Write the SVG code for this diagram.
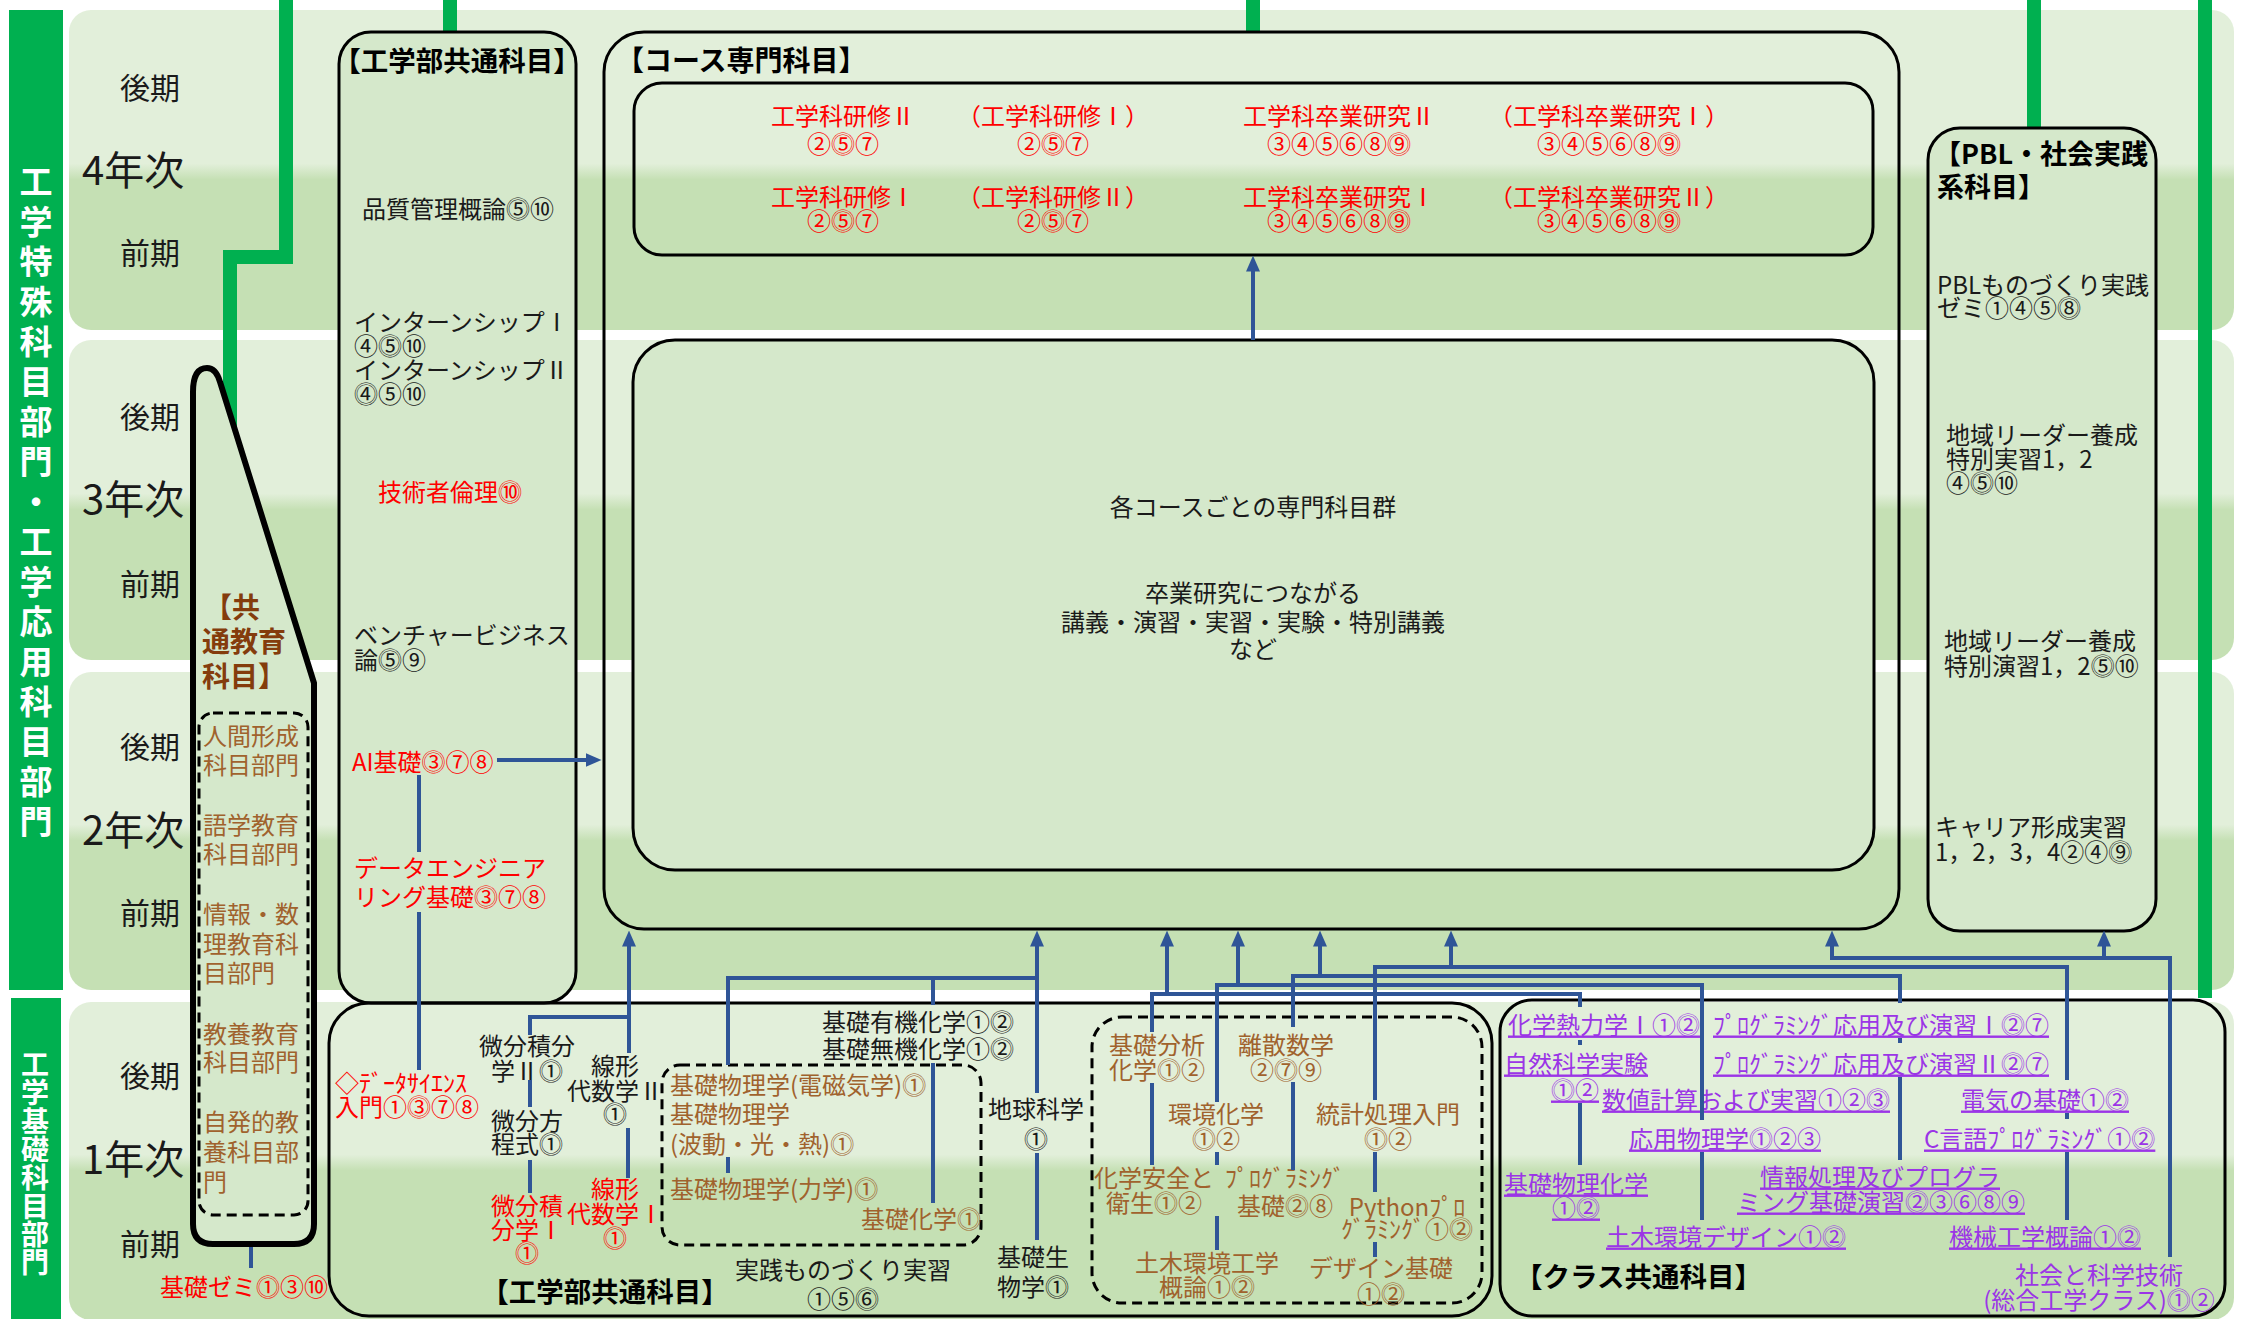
<svg xmlns="http://www.w3.org/2000/svg" width="2246" height="1319" viewBox="0 0 2246 1319">
<defs>
<linearGradient id="band" x1="0" y1="0" x2="0" y2="1">
<stop offset="0" stop-color="#e2efda"/><stop offset="0.48" stop-color="#e2efda"/><stop offset="0.53" stop-color="#c5e0b4"/><stop offset="1" stop-color="#c5e0b4"/>
</linearGradient>
<marker id="arr" viewBox="0 0 16 14" markerWidth="16" markerHeight="14" refX="0.5" refY="7" orient="auto" markerUnits="userSpaceOnUse">
<path d="M0,0 L16,7 L0,14 Z" fill="#2f5597"/>
</marker>
</defs>
<style>
text{font-family:"Noto Sans CJK JP","Noto Sans",sans-serif;font-size:24px;dominant-baseline:central;fill:#1a1a1a}
.m{text-anchor:middle}
.yr{font-size:30px}
.yy{font-size:40px}
.ttl{font-weight:bold;font-size:27.5px;fill:#000}
.red{fill:#ff0000}
.br{fill:#a0622d}
.gt{fill:#843c0c;font-weight:bold;font-size:28px}
.pu{fill:#9b35e6}
.ul{text-decoration:underline}
.vt{fill:#fff;font-weight:bold;text-anchor:middle}
.box{fill:#d5e8cb;stroke:#000;stroke-width:3}
.open{fill:none;stroke:#000;stroke-width:3}
.dash{fill:none;stroke:#000;stroke-width:3;stroke-dasharray:10 6}
.gl{stroke:#00b050;stroke-width:14;fill:none}
.cn{stroke:#2f5597;stroke-width:4;fill:none}
.ar{marker-end:url(#arr)}
</style>

<g id="bands">
<rect x="69" y="10" width="2165" height="320" rx="22" fill="url(#band)"/>
<rect x="69" y="340" width="2165" height="320" rx="22" fill="url(#band)"/>
<rect x="69" y="672" width="2165" height="318" rx="22" fill="url(#band)"/>
<rect x="69" y="1002" width="2165" height="318" rx="22" fill="url(#band)"/>
</g>

<g id="division-bars">
<rect x="9" y="10" width="54" height="980" fill="#00b050"/>
<rect x="11" y="998" width="50" height="321" fill="#00b050"/>
<text class="vt" style="font-size:33px" x="36 36 36 36 36 36 36 36 36 36 36 36 36 36 36 36 36" y="180 220 260 300 340 380 420 460 500 540 580 620 660 700 740 780 820">工学特殊科目部門・工学応用科目部門</text>
<text class="vt" style="font-size:28px" x="35 35 35 35 35 35 35 35" y="1063 1091 1120 1148 1176 1205 1233 1261">工学基礎科目部門</text>
</g>

<g id="year-labels">
<text class="yr m" x="150" y="86">後期</text>
<text class="yy" x="82" y="168">4年次</text>
<text class="yr m" x="150" y="251">前期</text>
<text class="yr m" x="150" y="415">後期</text>
<text class="yy" x="82" y="497">3年次</text>
<text class="yr m" x="150" y="582">前期</text>
<text class="yr m" x="150" y="745">後期</text>
<text class="yy" x="82" y="828">2年次</text>
<text class="yr m" x="150" y="911">前期</text>
<text class="yr m" x="150" y="1074">後期</text>
<text class="yy" x="82" y="1157">1年次</text>
<text class="yr m" x="150" y="1242">前期</text>
</g>

<g id="green-lines">
<polyline class="gl" points="286,0 286,257 230,257 230,450"/>
<line class="gl" x1="450" y1="0" x2="450" y2="33"/>
<line class="gl" x1="1253" y1="0" x2="1253" y2="33"/>
<line class="gl" x1="2034" y1="0" x2="2034" y2="129"/>
<line class="gl" x1="2205" y1="0" x2="2205" y2="998"/>
</g>

<g id="common-education">
<path d="M193,1224 V392 Q193,368 207,368 Q216,368 220,382 L314,683 V1224 Q314,1244 294,1244 H213 Q193,1244 193,1224 Z" fill="#d5e8cb" stroke="#000" stroke-width="6"/>
<text class="gt" x="204" y="606">【共</text>
<text class="gt" x="202" y="640">通教育</text>
<text class="gt" x="202" y="675">科目】</text>
<rect class="dash" x="199" y="713" width="109" height="502" rx="14"/>
<text class="br"><tspan x="203" y="734">人間形成</tspan><tspan x="203" y="763">科目部門</tspan></text>
<text class="br"><tspan x="203" y="823">語学教育</tspan><tspan x="203" y="852">科目部門</tspan></text>
<text class="br"><tspan x="203" y="912">情報・数</tspan><tspan x="203" y="942">理教育科</tspan><tspan x="203" y="971">目部門</tspan></text>
<text class="br"><tspan x="203" y="1032">教養教育</tspan><tspan x="203" y="1060">科目部門</tspan></text>
<text class="br"><tspan x="203" y="1120">自発的教</tspan><tspan x="203" y="1150">養科目部</tspan><tspan x="203" y="1180">門</tspan></text>
</g>

<g id="kiso-zemi">
<text class="red" x="160" y="1285">基礎ゼミ⓵③⑩</text>
</g>

<g id="eng-common-upper">
<rect class="box" x="339" y="32" width="237" height="971" rx="32"/>
<text class="ttl m" x="457" y="59">【工学部共通科目】</text>
<text class="m" x="458" y="207">品質管理概論⓹⑩</text>
<text><tspan x="354" y="320">インターンシップⅠ</tspan><tspan x="354" y="344">④⓹⑩</tspan><tspan x="354" y="368">インターンシップⅡ</tspan><tspan x="354" y="392">⓸⑤⑩</tspan></text>
<text class="red m" x="450" y="490">技術者倫理⓾</text>
<text><tspan x="354" y="633">ベンチャービジネス</tspan><tspan x="354" y="658">論⓹⑨</tspan></text>
<text class="red" x="352" y="760">AI基礎⓷⑦⑧</text>
<text class="red"><tspan x="354" y="866">データエンジニア</tspan><tspan x="354" y="895">リング基礎⓷⑦⑧</tspan></text>
</g>

<g id="course-specialized">
<rect class="open" x="604" y="32" width="1295" height="897" rx="40"/>
<text class="ttl" style="font-size:28px" x="616" y="59">【コース専門科目】</text>
<rect class="open" x="634" y="83" width="1239" height="172" rx="28"/>
<text class="red m"><tspan x="843" y="114">工学科研修Ⅱ</tspan><tspan x="843" y="142">②⓹⑦</tspan></text>
<text class="red m"><tspan x="1053" y="114">（工学科研修Ⅰ）</tspan><tspan x="1053" y="142">②⓹⑦</tspan></text>
<text class="red m"><tspan x="1339" y="114">工学科卒業研究Ⅱ</tspan><tspan x="1339" y="142">③④⑤⑥⑧⓽</tspan></text>
<text class="red m"><tspan x="1609" y="114">（工学科卒業研究Ⅰ）</tspan><tspan x="1609" y="142">③④⑤⑥⑧⓽</tspan></text>
<text class="red m"><tspan x="843" y="195">工学科研修Ⅰ</tspan><tspan x="843" y="219">②⓹⑦</tspan></text>
<text class="red m"><tspan x="1053" y="195">（工学科研修Ⅱ）</tspan><tspan x="1053" y="219">②⓹⑦</tspan></text>
<text class="red m"><tspan x="1339" y="195">工学科卒業研究Ⅰ</tspan><tspan x="1339" y="219">③④⑤⑥⑧⓽</tspan></text>
<text class="red m"><tspan x="1609" y="195">（工学科卒業研究Ⅱ）</tspan><tspan x="1609" y="219">③④⑤⑥⑧⓽</tspan></text>
<rect class="box" x="633" y="340" width="1241" height="530" rx="42"/>
<text class="m" x="1253" y="505">各コースごとの専門科目群</text>
<text class="m"><tspan x="1253" y="591">卒業研究につながる</tspan><tspan x="1253" y="620">講義・演習・実習・実験・特別講義</tspan><tspan x="1253" y="647">など</tspan></text>
</g>

<g id="pbl">
<rect class="box" x="1928" y="128" width="228" height="803" rx="32"/>
<text class="ttl" style="font-size:27px"><tspan x="1934" y="152">【PBL・社会実践</tspan><tspan x="1937" y="185">系科目】</tspan></text>
<text><tspan x="1937" y="283">PBLものづくり実践</tspan><tspan x="1937" y="306">ゼミ①④⑤⓼</tspan></text>
<text><tspan x="1946" y="433">地域リーダー養成</tspan><tspan x="1946" y="457">特別実習1，2</tspan><tspan x="1946" y="481">④⓹⑩</tspan></text>
<text><tspan x="1944" y="639">地域リーダー養成</tspan><tspan x="1944" y="664">特別演習1，2⓹⑩</tspan></text>
<text><tspan x="1935" y="825">キャリア形成実習</tspan><tspan x="1935" y="850">1，2，3，4②④⓽</tspan></text>
</g>

<g id="eng-common-lower">
<rect class="open" x="329" y="1003" width="1163" height="313" rx="40"/>
<text class="ttl m" x="605" y="1290">【工学部共通科目】</text>
<text class="red"><tspan x="335" y="1081">◇ﾃﾞｰﾀｻｲｴﾝｽ</tspan><tspan x="335" y="1105">入門①⓷⑦⑧</tspan></text>
<text class="m"><tspan x="527" y="1044">微分積分</tspan><tspan x="527" y="1069">学Ⅱ⓵</tspan></text>
<text class="m"><tspan x="527" y="1119">微分方</tspan><tspan x="527" y="1142">程式⓵</tspan></text>
<text class="red m"><tspan x="527" y="1204">微分積</tspan><tspan x="527" y="1228">分学Ⅰ</tspan><tspan x="527" y="1251">⓵</tspan></text>
<text class="m"><tspan x="615" y="1064">線形</tspan><tspan x="615" y="1089">代数学Ⅱ</tspan><tspan x="615" y="1112">⓵</tspan></text>
<text class="red m"><tspan x="615" y="1187">線形</tspan><tspan x="615" y="1212">代数学Ⅰ</tspan><tspan x="615" y="1236">⓵</tspan></text>
<text class="m"><tspan x="918" y="1020">基礎有機化学①⓶</tspan><tspan x="918" y="1047">基礎無機化学①⓶</tspan></text>
<rect class="dash" x="662" y="1065" width="319" height="180" rx="18"/>
<text class="br" x="670" y="1083">基礎物理学(電磁気学)⓵</text>
<text class="br"><tspan x="670" y="1112">基礎物理学</tspan><tspan x="670" y="1142">(波動・光・熱)⓵</tspan></text>
<text class="br" x="670" y="1187">基礎物理学(力学)⓵</text>
<text class="br" x="861" y="1217">基礎化学⓵</text>
<text class="m"><tspan x="1036" y="1107">地球科学</tspan><tspan x="1036" y="1137">⓵</tspan></text>
<text><tspan x="997" y="1255">基礎生</tspan><tspan x="997" y="1285">物学⓵</tspan></text>
<text class="m"><tspan x="843" y="1268">実践ものづくり実習</tspan><tspan x="843" y="1297">①⑤⓺</tspan></text>
<rect class="dash" x="1092" y="1017" width="390" height="286" rx="30"/>
<text class="br"><tspan x="1109" y="1043">基礎分析</tspan><tspan x="1109" y="1068">化学⓵②</tspan></text>
<text class="br m"><tspan x="1286" y="1043">離散数学</tspan><tspan x="1286" y="1068">②⓻⑨</tspan></text>
<text class="br m"><tspan x="1216" y="1112">環境化学</tspan><tspan x="1216" y="1137">⓵②</tspan></text>
<text class="br m"><tspan x="1388" y="1112">統計処理入門</tspan><tspan x="1388" y="1137">⓵②</tspan></text>
<text class="br m"><tspan x="1154" y="1176">化学安全と</tspan><tspan x="1154" y="1201">衛生⓵②</tspan></text>
<text class="br m"><tspan x="1285" y="1176">ﾌﾟﾛｸﾞﾗﾐﾝｸﾞ</tspan><tspan x="1285" y="1204">基礎⓶⑧</tspan></text>
<text class="br m"><tspan x="1407" y="1205">Pythonﾌﾟﾛ</tspan><tspan x="1407" y="1227">ｸﾞﾗﾐﾝｸﾞ①⓶</tspan></text>
<text class="br m"><tspan x="1207" y="1261">土木環境工学</tspan><tspan x="1207" y="1285">概論①⓶</tspan></text>
<text class="br m"><tspan x="1381" y="1266">デザイン基礎</tspan><tspan x="1381" y="1292">①⓶</tspan></text>
</g>

<g id="class-common">
<rect class="open" x="1500" y="1000" width="725" height="316" rx="32"/>
<text class="ttl" x="1515" y="1275">【クラス共通科目】</text>
<text class="pu ul" x="1508" y="1023">化学熱力学Ⅰ①⓶</text>
<text class="pu ul" x="1713" y="1023">ﾌﾟﾛｸﾞﾗﾐﾝｸﾞ応用及び演習Ⅰ⓶⑦</text>
<text class="pu ul" x="1504" y="1062">自然科学実験</text>
<text class="pu ul" x="1551" y="1088">⓵②</text>
<text class="pu ul" x="1713" y="1062">ﾌﾟﾛｸﾞﾗﾐﾝｸﾞ応用及び演習Ⅱ⓶⑦</text>
<text class="pu ul" x="1602" y="1098">数値計算および実習①②⓷</text>
<text class="pu ul" x="1961" y="1098">電気の基礎①⓶</text>
<text class="pu ul" x="1629" y="1137">応用物理学⓵②③</text>
<text class="pu ul" x="1924" y="1137">C言語ﾌﾟﾛｸﾞﾗﾐﾝｸﾞ①⓶</text>
<text class="pu ul" x="1504" y="1182">基礎物理化学</text>
<text class="pu ul" x="1552" y="1206">①⓶</text>
<text class="pu ul m" x="1880" y="1175">情報処理及びプログラ</text>
<text class="pu ul m" x="1881" y="1200">ミング基礎演習⓶③⑥⑧⑨</text>
<text class="pu ul" x="1606" y="1235">土木環境デザイン①⓶</text>
<text class="pu ul" x="1949" y="1235">機械工学概論①⓶</text>
<text class="pu m"><tspan x="2099" y="1273">社会と科学技術</tspan><tspan x="2099" y="1298">(総合工学クラス)⓵②</tspan></text>
</g>

<g id="connectors">
<path class="cn ar" d="M497,760 H586"/>
<path class="cn" d="M419,775 V852 M419,912 V1070 M251,1247 V1268"/>
<path class="cn ar" d="M1253,340 V271"/>
<path class="cn" d="M530,1035 V1017 H629 M530,1080 V1107 M530,1160 V1193 M628,1128 V1178"/>
<path class="cn ar" d="M629,1053 V946"/>
<path class="cn" d="M728,1065 V978 H1037 M933,978 V1005 M728,1157 V1173 M933,1063 V1203 M1037,1153 V1240"/>
<path class="cn ar" d="M1037,1093 V946"/>
<path class="cn" d="M1152,1032 V994 H1580 V1007 M1152,1083 V1165 M1580,1040 V1045 M1580,1103 V1165"/>
<path class="cn ar" d="M1167,994 V946"/>
<path class="cn" d="M1217,1102 V985 H1702 V1120 M1217,1152 V1165 M1217,1216 V1250 M1702,1152 V1220"/>
<path class="cn ar" d="M1238,985 V946"/>
<path class="cn" d="M1293,1027 V976 H1900 V1003 M1293,1082 V1170 M1900,1038 V1043 M1900,1077 V1160"/>
<path class="cn ar" d="M1320,976 V946"/>
<path class="cn" d="M1375,1100 V967 H2067 V1080 M1375,1152 V1192 M1375,1242 V1257 M2067,1113 V1119 M2067,1152 V1220"/>
<path class="cn ar" d="M1451,967 V946"/>
<path class="cn ar" d="M2170,1257 V958 H1832 V946"/>
<path class="cn ar" d="M2104,958 V946"/>
</g>
</svg>
